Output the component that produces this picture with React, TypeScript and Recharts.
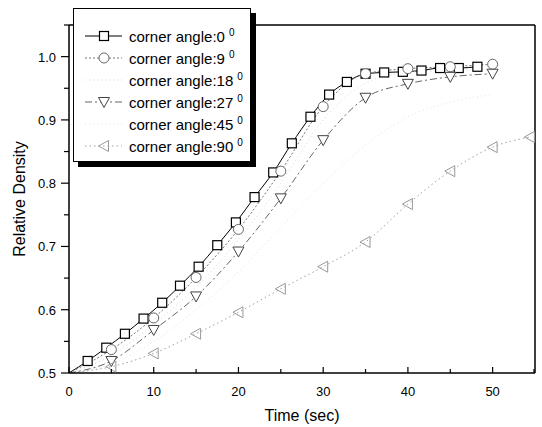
import React from 'react';
import { LineChart, Line, XAxis, YAxis, Legend, ReferenceLine } from 'recharts';

// time samples (sec)
const squareTime = [0, 2.2, 4.4, 6.6, 8.8, 11, 13.1, 15.3, 17.5, 19.7, 21.9, 24.1, 26.3, 28.5, 30.7, 32.8, 35, 37.2, 39.4, 41.6, 43.8, 46, 48.2];
const time5 = [0, 5, 10, 15, 20, 25, 30, 35, 40, 45, 50];
const time90 = [0, 5, 10, 15, 20, 25, 30, 35, 40, 45, 50, 54.4];

// relative density per corner angle
const angle0 = [0.5, 0.519, 0.54, 0.562, 0.586, 0.611, 0.638, 0.668, 0.702, 0.738, 0.778, 0.817, 0.863, 0.905, 0.94, 0.96, 0.973, 0.975, 0.976, 0.978, 0.982, 0.982, 0.984];
const angle9 = [0.5, 0.537, 0.587, 0.651, 0.727, 0.819, 0.921, 0.973, 0.981, 0.984, 0.988];
const angle18 = [0.5, 0.528, 0.577, 0.636, 0.71, 0.8, 0.9, 0.958, 0.975, 0.978, 0.98];
const angle27 = [0.5, 0.519, 0.568, 0.621, 0.692, 0.776, 0.868, 0.935, 0.957, 0.968, 0.973];
const angle45 = [0.5, 0.514, 0.55, 0.6, 0.66, 0.73, 0.8, 0.86, 0.905, 0.928, 0.94];
const angle90 = [0.5, 0.51, 0.531, 0.562, 0.596, 0.633, 0.668, 0.707, 0.767, 0.819, 0.857, 0.873];

const xTicks = [0, 5, 10, 15, 20, 25, 30, 35, 40, 45, 50, 55];
const yTicks = [0.5, 0.55, 0.6, 0.65, 0.7, 0.75, 0.8, 0.85, 0.9, 0.95, 1.0, 1.05];

const toPoints = (ts: number[], vs: number[]) => ts.map((t, i) => ({ t, v: vs[i] }));

type Shape = 'square' | 'circle' | 'down' | 'left' | 'none';

const marker = (shape: Shape, cx: number, cy: number, color: string, key?: string) => {
  switch (shape) {
    case 'square':
      return <rect key={key} x={cx - 4.5} y={cy - 4.5} width={9} height={9} fill="#fff" stroke={color} strokeWidth={1.2} />;
    case 'circle':
      return <circle key={key} cx={cx} cy={cy} r={5} fill="#fff" stroke={color} strokeWidth={1} />;
    case 'down':
      return <path key={key} d={`M${cx - 5.5},${cy - 4.5}L${cx + 5.5},${cy - 4.5}L${cx},${cy + 5.5}Z`} fill="#fff" stroke={color} strokeWidth={1} />;
    case 'left':
      return <path key={key} d={`M${cx + 4.5},${cy - 5.5}L${cx + 4.5},${cy + 5.5}L${cx - 5.5},${cy}Z`} fill="none" stroke={color} strokeWidth={1} />;
    default:
      return <g key={key} />;
  }
};

// no marker at the origin point
const dotFor = (shape: Shape, color: string) => (p: any) => {
  const key = `dot-${p.index}`;
  if (p.index === 0) return <g key={key} />;
  return marker(shape, p.cx, p.cy, color, key);
};

const series = [
  { name: 'corner angle:0', data: toPoints(squareTime, angle0), shape: 'square' as Shape, color: '#000', dash: undefined, mark: '#000' },
  { name: 'corner angle:9', data: toPoints(time5, angle9), shape: 'circle' as Shape, color: '#777', dash: '2 2', mark: '#666' },
  { name: 'corner angle:18', data: toPoints(time5, angle18), shape: 'none' as Shape, color: '#d8d8d8', dash: '1 3', mark: '#ccc' },
  { name: 'corner angle:27', data: toPoints(time5, angle27), shape: 'down' as Shape, color: '#666', dash: '7 3 2 3', mark: '#444' },
  { name: 'corner angle:45', data: toPoints(time5, angle45), shape: 'none' as Shape, color: '#e4e4e4', dash: '1 3', mark: '#ddd' },
  { name: 'corner angle:90', data: toPoints(time90, angle90), shape: 'left' as Shape, color: '#a0a0a0', dash: '1.5 3', mark: '#999' },
];

const XTick = (props: any) => {
  const { x, y, payload } = props;
  const v = payload.value;
  const major = v % 10 === 0;
  return (
    <g>
      <line x1={x} x2={x} y1={y} y2={y - (major ? 6 : 4)} stroke="#000" strokeWidth={1.2} />
      {major && v <= 50 && (
        <text x={x} y={y + 23} textAnchor="middle" fontSize={13} fill="#000">{v}</text>
      )}
    </g>
  );
};

const YTick = (props: any) => {
  const { x, y, payload } = props;
  const v = payload.value;
  const major = Math.abs(v * 10 - Math.round(v * 10)) < 1e-6;
  return (
    <g>
      <line x1={x} x2={x - (major ? 8 : 5)} y1={y} y2={y} stroke="#000" strokeWidth={1.2} />
      {major && v <= 1.0 + 1e-6 && (
        <text x={x - 13} y={y + 5} textAnchor="end" fontSize={13} fill="#000">{v.toFixed(1)}</text>
      )}
    </g>
  );
};

const LegendBox = () => (
  <div style={{ width: 178, height: 154, border: '1px solid #000', background: '#fff', boxShadow: '5px 5px 0 #000', paddingTop: 16, boxSizing: 'border-box' }}>
    {series.map((s) => (
      <div key={s.name} style={{ display: 'flex', alignItems: 'center', height: 22 }}>
        <svg width={50} height={22} style={{ marginLeft: 5 }}>
          <line x1={6} x2={43} y1={11} y2={11} stroke={s.color} strokeWidth={1} strokeDasharray={s.dash} />
          {marker(s.shape, 25, 11, s.mark)}
        </svg>
        <span style={{ fontSize: 15, color: '#000', whiteSpace: 'nowrap' }}>
          {s.name}
          <sup style={{ fontSize: 10, marginLeft: 4, color: '#000' }}>0</sup>
        </span>
      </div>
    ))}
  </div>
);

export default function App() {
  return (
    <div style={{ width: 542, height: 427, background: '#fff' }}>
      <style>{'body{margin:0}'}</style>
      <LineChart width={542} height={427} margin={{ top: 25, right: 7, left: 0, bottom: 0 }} style={{ fontFamily: '"Liberation Sans", Arial, sans-serif' }}>
        <XAxis
          type="number"
          dataKey="t"
          domain={[0, 55]}
          ticks={xTicks}
          tick={<XTick />}
          tickLine={false}
          tickSize={0}
          tickMargin={0}
          height={54}
          axisLine={{ stroke: '#000', strokeWidth: 1.5 }}
          allowDataOverflow
          label={{ value: 'Time (sec)', position: 'insideBottom', offset: 6, fontSize: 16, fill: '#000' }}
        />
        <YAxis
          type="number"
          domain={[0.5, 1.05]}
          ticks={yTicks}
          tick={<YTick />}
          tickLine={false}
          tickSize={0}
          tickMargin={0}
          width={69}
          axisLine={{ stroke: '#000', strokeWidth: 1.5 }}
          allowDataOverflow
          label={{ value: 'Relative Density', angle: -90, position: 'insideLeft', offset: 19, fontSize: 16, fill: '#000', style: { textAnchor: 'middle' } }}
        />
        <ReferenceLine y={1.05} stroke="#000" strokeWidth={1.5} />
        <ReferenceLine x={55} stroke="#000" strokeWidth={1.5} />
        {series.map((s) => (
          <Line
            key={s.name}
            data={s.data}
            dataKey="v"
            name={s.name}
            type="monotone"
            stroke={s.color}
            strokeWidth={1}
            strokeDasharray={s.dash}
            dot={dotFor(s.shape, s.mark)}
            activeDot={false}
            isAnimationActive={false}
          />
        ))}
        <Legend
          layout="vertical"
          align="center"
          verticalAlign="middle"
          content={<LegendBox />}
          wrapperStyle={{ top: 8, left: 73, width: 'auto' }}
        />
      </LineChart>
    </div>
  );
}
